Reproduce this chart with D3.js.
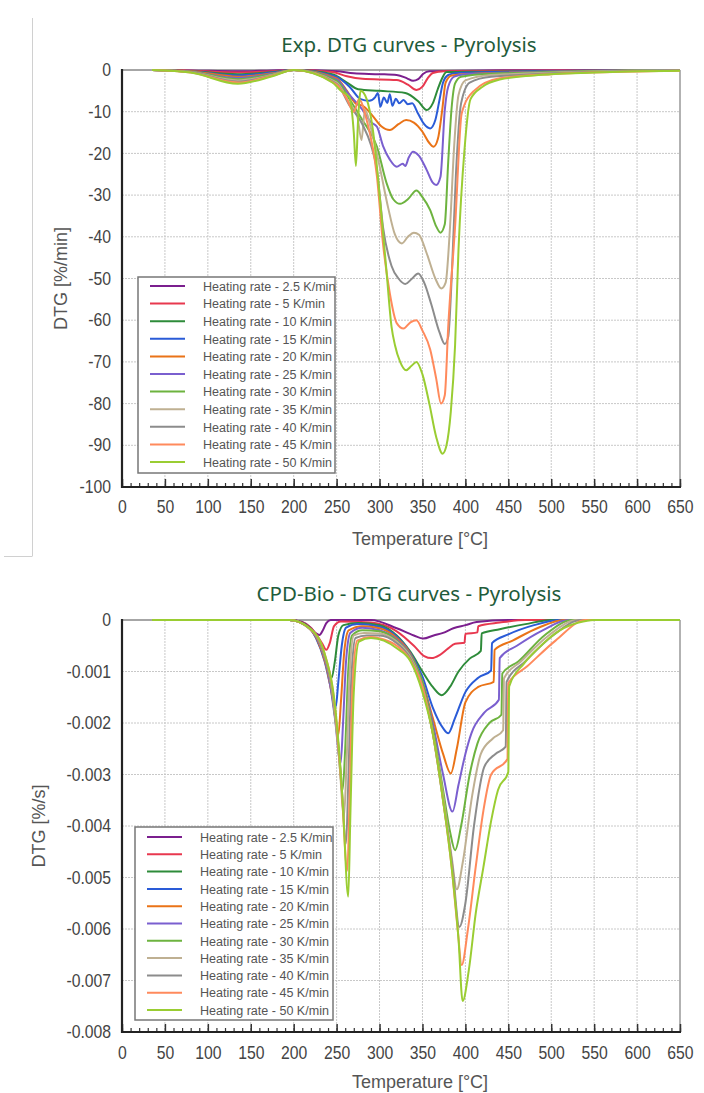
<!DOCTYPE html>
<html><head><meta charset="utf-8">
<script src="https://cdn.jsdelivr.net/npm/d3@7"></script>
<style>body{margin:0;background:#fff}</style>
</head><body><svg id="c" width="704" height="1093"></svg>
<script>
// ---------- shared ----------
const rateLabels = ["Heating rate - 2.5 K/min","Heating rate - 5 K/min","Heating rate - 10 K/min","Heating rate - 15 K/min","Heating rate - 20 K/min","Heating rate - 25 K/min","Heating rate - 30 K/min","Heating rate - 35 K/min","Heating rate - 40 K/min","Heating rate - 45 K/min","Heating rate - 50 K/min"];
const rateColors = ["#7b1f8e","#e8384f","#2e8b3a","#2a5bd7","#ea7317","#7a5fcf","#6db33f","#bfb092","#8c8c8c","#ff8a5c","#9acd32"];
const tempTicks = [0,50,100,150,200,250,300,350,400,450,500,550,600,650];
const tempMinorTicks = d3.range(0,651,10);

// ---------- top chart (experimental, %/min) ----------
const expTicks = [0,-10,-20,-30,-40,-50,-60,-70,-80,-90,-100];
const exp2_5 = [[35,0],[80,-0.1],[135,-0.3],[175,-0.1],[200,0],[250,-0.3],[270,-0.8],[300,-1.0],[320,-1.2],[332,-2.0],[339,-2.6],[345,-2.2],[351,-0.9],[358,-0.3],[400,-0.15],[500,-0.05],[650,0]];
const exp5 = [[35,0],[80,-0.2],[135,-0.6],[175,-0.3],[200,0],[245,-0.5],[262,-1.5],[280,-2.1],[320,-2.4],[333,-3.5],[343,-4.8],[350,-4.0],[356,-2.0],[362,-0.7],[375,-0.3],[450,-0.2],[650,0]];
const exp10 = [[35,0],[80,-0.3],[135,-1.0],[175,-0.5],[200,0],[245,-1.0],[262,-3.0],[275,-4.6],[300,-5.0],[330,-5.5],[345,-7.5],[355,-9.6],[362,-8.0],[368,-4.5],[372,-2.4],[378,-0.5],[420,-0.4],[650,0]];
const exp15 = [[35,0],[80,-0.3],[135,-1.3],[175,-0.6],[200,0],[248,-1.5],[265,-4.0],[278,-7.0],[288,-7.4],[295,-6.5],[298,-5.5],[301,-8.8],[305,-6.6],[309,-7.9],[312,-5.8],[315,-8.6],[319,-6.9],[323,-8.0],[328,-7.2],[333,-8.2],[338,-8.0],[345,-10.5],[352,-13.0],[359,-14.0],[365,-12.0],[370,-7.0],[374,-3.0],[380,-1.2],[390,-0.7],[430,-0.5],[650,0]];
const exp20 = [[35,0],[80,-0.3],[135,-1.6],[175,-0.8],[200,0],[250,-2.0],[262,-5.0],[272,-8.0],[282,-8.8],[292,-11.0],[302,-13.5],[312,-14.4],[322,-13.0],[331,-12.0],[340,-12.6],[350,-14.8],[358,-17.5],[363,-18.4],[368,-16.5],[373,-9.6],[377,-3.0],[384,-1.3],[420,-0.8],[650,0]];
const exp25 = [[35,0],[80,-0.4],[135,-1.9],[175,-0.9],[200,0],[250,-2.3],[265,-6.0],[280,-9.5],[290,-12.5],[297,-13.6],[304,-18.2],[312,-21.5],[320,-23.2],[327,-22.5],[330,-23.0],[334,-21.0],[339,-19.6],[346,-20.6],[355,-24.0],[362,-27.0],[366,-27.6],[371,-25.6],[376,-9.6],[380,-4.0],[387,-1.6],[400,-1.0],[650,0]];
const exp30 = [[35,0],[80,-0.4],[135,-2.2],[175,-1.0],[200,0],[250,-2.6],[265,-7.0],[280,-12.0],[297,-18.4],[308,-27.0],[316,-31.0],[324,-32.1],[333,-31.0],[343,-28.9],[350,-30.5],[359,-33.6],[366,-37.5],[371,-39.0],[376,-37.0],[380,-22.0],[384,-9.0],[388,-3.2],[395,-1.6],[430,-0.9],[650,0]];
const exp35 = [[35,0],[80,-0.5],[135,-2.5],[175,-1.2],[200,0],[250,-3.0],[265,-8.0],[274,-11.0],[279,-16.8],[283,-9.5],[290,-14.0],[300,-23.0],[310,-33.0],[318,-39.5],[326,-41.6],[333,-40.0],[340,-39.0],[346,-39.5],[355,-44.0],[365,-50.0],[372,-52.4],[377,-51.0],[382,-38.0],[387,-18.0],[392,-6.0],[400,-2.5],[430,-1.2],[650,0]];
const exp40 = [[35,0],[80,-0.5],[135,-2.8],[175,-1.3],[200,0],[250,-3.3],[265,-8.5],[280,-13.0],[290,-18.0],[297,-24.0],[304,-37.6],[314,-47.0],[322,-50.0],[330,-51.3],[338,-50.0],[345,-48.8],[352,-51.0],[360,-56.0],[370,-63.0],[376,-65.7],[380,-64.0],[384,-50.0],[389,-25.0],[395,-8.0],[405,-3.0],[430,-1.6],[650,0]];
const exp45 = [[35,0],[80,-0.6],[135,-3.0],[175,-1.4],[200,0],[250,-3.5],[262,-7.0],[270,-10.0],[276,-7.0],[285,-12.0],[297,-25.6],[304,-41.6],[312,-53.6],[320,-60.7],[328,-62.0],[336,-60.5],[343,-60.0],[350,-62.5],[359,-67.0],[366,-74.0],[371.6,-80.0],[376,-78.0],[380,-61.6],[388,-37.6],[395.7,-10.4],[410,-5.0],[440,-2.0],[500,-1.0],[650,-0.2]];
const exp50 = [[35,0],[80,-0.6],[135,-3.3],[175,-1.5],[200,0],[245,-3.0],[255,-5.0],[265,-6.5],[270,-15.0],[272.5,-23.0],[275,-12.0],[278,-5.0],[285,-7.0],[292,-14.0],[301.7,-33.6],[308,-48.0],[314,-61.6],[318,-66.0],[324,-70.0],[331,-72.0],[337,-71.0],[343,-70.0],[350,-73.0],[358,-80.0],[366,-88.0],[373.5,-92.0],[378,-90.0],[383,-82.0],[388,-66.0],[392,-43.0],[399,-19.0],[406,-7.0],[420,-4.0],[440,-2.3],[480,-1.3],[550,-0.6],[650,-0.2]];

// ---------- bottom chart (CPD-Bio, %/s) ----------
const cpdTicks = [0,-0.001,-0.002,-0.003,-0.004,-0.005,-0.006,-0.007,-0.008];
const cpdTickLabels = ["0","-0.001","-0.002","-0.003","-0.004","-0.005","-0.006","-0.007","-0.008"];
const cpd2_5 = [[35,0],[195,0],[210,-0.00004],[220,-0.00015],[226,-0.00026],[230,-0.00029],[234,-0.0002],[238,-0.00006],[243,0],[290,0],[320,-0.00016],[340,-0.0003],[351,-0.00036],[363,-0.0003],[374,-0.00025],[386,-0.00016],[400,-0.0001],[413,-0.00004],[450,0],[650,0]];
const cpd5 = [[35,0],[195,0],[212,-0.00006],[225,-0.00025],[233,-0.00045],[238,-0.00058],[242,-0.00045],[247,-0.00012],[255,-0.00003],[290,-0.00005],[320,-0.00022],[340,-0.0005],[352,-0.0007],[360.7,-0.00074],[370,-0.00068],[380,-0.00055],[388,-0.00046],[399,-0.00044],[400,-0.00027],[414,-0.00024],[415,-0.00012],[440,-0.00005],[470,0],[650,0]];
const cpd10 = [[35,0],[195,0],[213,-0.00008],[225,-0.0003],[235,-0.0007],[241,-0.001],[244,-0.00113],[248,-0.0008],[252,-0.0003],[258,-0.0001],[275,-0.00006],[300,-0.0001],[320,-0.0003],[336,-0.00062],[350,-0.001],[362,-0.0013],[372.4,-0.00146],[382,-0.0013],[392,-0.001],[405,-0.00075],[418,-0.0006],[419,-0.00026],[440,-0.00018],[470,-0.00008],[500,0],[650,0]];
const cpd15 = [[35,0],[195,0],[214,-0.0001],[226,-0.00035],[236,-0.0008],[243,-0.0013],[249,-0.00168],[252,-0.0012],[256,-0.0005],[261,-0.00015],[275,-0.00008],[300,-0.00013],[320,-0.00032],[336,-0.00064],[350,-0.0011],[362,-0.0017],[374,-0.0021],[380,-0.0022],[388,-0.0019],[400,-0.0014],[415,-0.00112],[430,-0.00098],[431,-0.00045],[450,-0.00028],[480,-0.0001],[510,0],[650,0]];
const cpd20 = [[35,0],[195,0],[215,-0.00012],[228,-0.0004],[238,-0.0009],[246,-0.0016],[252,-0.00223],[255,-0.0016],[259,-0.0006],[264,-0.0002],[280,-0.00012],[300,-0.00016],[320,-0.00035],[336,-0.00066],[350,-0.0012],[362,-0.0019],[374,-0.0026],[383,-0.00298],[390,-0.0025],[400,-0.0016],[415,-0.0013],[433,-0.0012],[434,-0.00058],[455,-0.0004],[485,-0.00015],[515,0],[650,0]];
const cpd25 = [[35,0],[195,0],[216,-0.00013],[230,-0.00045],[240,-0.001],[248,-0.0019],[254.7,-0.00278],[257.5,-0.002],[261,-0.0008],[266,-0.00025],[280,-0.00015],[300,-0.0002],[320,-0.00038],[336,-0.00068],[350,-0.0012],[362,-0.002],[374,-0.003],[385,-0.00372],[392,-0.0032],[400,-0.0026],[407,-0.0022],[422,-0.0018],[439,-0.00155],[440,-0.00074],[460,-0.0005],[490,-0.0002],[520,0],[650,0]];
const cpd30 = [[35,0],[195,0],[217,-0.00014],[232,-0.0005],[243,-0.0012],[251,-0.0023],[257,-0.0033],[260,-0.0025],[263.5,-0.001],[268,-0.0003],[280,-0.0002],[300,-0.00022],[320,-0.0004],[336,-0.0007],[350,-0.0012],[362,-0.0021],[374,-0.0033],[382,-0.0041],[388,-0.00447],[395,-0.004],[405,-0.003],[414,-0.0024],[428,-0.002],[442,-0.00184],[443,-0.00104],[462,-0.0008],[492,-0.0003],[525,0],[650,0]];
const cpd35 = [[35,0],[195,0],[217,-0.00015],[233,-0.00055],[245,-0.0014],[253,-0.0027],[258.6,-0.00382],[261.5,-0.0028],[265,-0.0011],[270,-0.0003],[282,-0.00025],[300,-0.00026],[320,-0.00042],[336,-0.00072],[350,-0.0013],[362,-0.0022],[374,-0.0034],[384,-0.0046],[390,-0.00523],[397,-0.0047],[408,-0.0034],[418,-0.0026],[432,-0.0023],[444,-0.00214],[445,-0.00113],[465,-0.0008],[497,-0.0003],[530,0],[650,0]];
const cpd40 = [[35,0],[195,0],[218,-0.00016],[234,-0.0006],[247,-0.0016],[255,-0.003],[261,-0.00434],[263.5,-0.0032],[267,-0.0012],[272,-0.00035],[285,-0.0003],[300,-0.0003],[320,-0.00045],[336,-0.00075],[350,-0.0013],[362,-0.0022],[374,-0.0035],[385,-0.0048],[393,-0.00596],[400,-0.0055],[410,-0.004],[422,-0.00285],[435,-0.0026],[447,-0.00246],[448,-0.0012],[470,-0.0008],[502,-0.0003],[535,0],[650,0]];
const cpd45 = [[35,0],[195,0],[219,-0.00017],[235,-0.0006],[248,-0.0017],[256,-0.0033],[262.5,-0.00487],[265,-0.0035],[268.5,-0.0013],[274,-0.0004],[290,-0.00033],[305,-0.00038],[320,-0.0005],[336,-0.00078],[350,-0.0013],[362,-0.0022],[374,-0.0035],[384,-0.0048],[391,-0.006],[395.7,-0.0067],[403,-0.006],[412,-0.0048],[421,-0.0037],[430,-0.003],[449,-0.0027],[450,-0.00123],[472,-0.0009],[505,-0.0004],[540,0],[650,0]];
const cpd50 = [[35,0],[195,0],[220,-0.00018],[236,-0.00065],[249,-0.0018],[257,-0.0035],[263.6,-0.00537],[266,-0.0038],[270,-0.0014],[276,-0.00042],[290,-0.00035],[305,-0.0004],[320,-0.00055],[336,-0.0008],[350,-0.0014],[362,-0.0022],[374,-0.0035],[384,-0.0048],[392,-0.0062],[396.8,-0.0074],[404,-0.0068],[412,-0.0057],[421,-0.0048],[430,-0.0039],[438,-0.0033],[450,-0.00295],[451,-0.00129],[468,-0.00085],[483,-0.00058],[510,-0.0002],[532,-0.00005],[550,0],[650,0]];

const expSeries = [exp2_5,exp5,exp10,exp15,exp20,exp25,exp30,exp35,exp40,exp45,exp50];
const cpdSeries = [cpd2_5,cpd5,cpd10,cpd15,cpd20,cpd25,cpd30,cpd35,cpd40,cpd45,cpd50];

const svg = d3.select("#c");
const SANS = "'Liberation Sans',Arial,sans-serif";

// squeeze a text element horizontally, anchored at its anchor point
function squeeze(sel, factor){
  sel.each(function(){
    const t = d3.select(this);
    const ax = +t.attr("x")||0, ay = +t.attr("y")||0;
    const prev = t.attr("transform")||"";
    t.attr("transform", `${prev} translate(${ax},${ay}) scale(${factor},1) translate(${-ax},${-ay})`);
  });
}

// decorative frame line at left of top panel
svg.append("line").attr("x1",32.5).attr("x2",32.5).attr("y1",18).attr("y2",556).attr("stroke","#d0d0d0").attr("stroke-width",1);
svg.append("line").attr("x1",4).attr("x2",32.5).attr("y1",556.5).attr("y2",556.5).attr("stroke","#d0d0d0").attr("stroke-width",1);

function drawChart(o){
  const x = d3.scaleLinear().domain([0,650]).range([122,680]);
  const y = d3.scaleLinear().domain([o.yTicks[o.yTicks.length-1],0]).range([o.yBottom,o.yTop]);
  const g = svg.append("g");
  // title
  g.append("text").attr("x",409).attr("y",o.titleY).attr("text-anchor","middle")
    .attr("font-family","'Noto Sans','Open Sans',sans-serif").attr("font-size",20.5)
    .attr("fill","#1f5c3b").text(o.title);
  // grid
  g.append("g").selectAll("line").data(tempTicks.filter(t=>t>0&&t<650)).join("line")
    .attr("x1",d=>x(d)).attr("x2",d=>x(d)).attr("y1",o.yTop).attr("y2",o.yBottom)
    .attr("stroke","#c8c8c8").attr("stroke-width",1).attr("stroke-dasharray","2,1");
  g.append("g").selectAll("line").data(o.yTicks.slice(1,-1)).join("line")
    .attr("x1",x(0)).attr("x2",x(650)).attr("y1",d=>y(d)).attr("y2",d=>y(d))
    .attr("stroke","#c8c8c8").attr("stroke-width",1).attr("stroke-dasharray","2,1");
  // frame
  g.append("line").attr("x1",x(0)).attr("x2",x(650)).attr("y1",y(0)).attr("y2",y(0)).attr("stroke","#888").attr("stroke-width",1.5);
  g.append("line").attr("x1",x(650)).attr("x2",x(650)).attr("y1",y(0)).attr("y2",o.yBottom).attr("stroke","#999").attr("stroke-width",1.5);
  // curves
  const line = d3.line().x(d=>x(d[0])).y(d=>y(d[1])).curve(d3.curveMonotoneX);
  g.append("g").selectAll("path").data(o.series).join("path")
    .attr("d",line).attr("fill","none").attr("stroke",(d,i)=>rateColors[i]).attr("stroke-width",2).attr("stroke-linejoin","round");
  // axes
  const yAxis = d3.axisLeft(y).tickValues(o.yTicks).tickSize(0).tickPadding(11).tickFormat((d,i)=>o.yLabels[i]);
  const ya = g.append("g").attr("transform",`translate(${x(0)},0)`).call(yAxis);
  ya.select(".domain").remove();
  ya.selectAll("text").attr("font-family",SANS).attr("font-size",17.5).attr("fill","#444");
  squeeze(ya.selectAll("text"),0.9);
  const xMinor = d3.axisBottom(x).tickValues(tempMinorTicks).tickSize(-4).tickFormat("");
  const xm = g.append("g").attr("transform",`translate(0,${o.yBottom})`).call(xMinor);
  xm.select(".domain").remove();
  xm.selectAll("line").attr("stroke","#333").attr("stroke-width",1.2);
  const xAxis = d3.axisBottom(x).tickValues(tempTicks).tickSize(-8).tickPadding(o.xPad);
  const xa = g.append("g").attr("transform",`translate(0,${o.yBottom})`).call(xAxis);
  xa.select(".domain").remove();
  xa.selectAll("line").attr("stroke","#333").attr("stroke-width",1.5);
  xa.selectAll("text").attr("font-family",SANS).attr("font-size",17.5).attr("fill","#444");
  squeeze(xa.selectAll("text"),0.9);
  g.append("line").attr("x1",x(0)).attr("x2",x(0)).attr("y1",y(0)-1).attr("y2",o.yBottom+1).attr("stroke","#222").attr("stroke-width",2.2);
  g.append("line").attr("x1",x(0)-1).attr("x2",x(650)+1).attr("y1",o.yBottom).attr("y2",o.yBottom).attr("stroke","#222").attr("stroke-width",2.2);
  // axis titles
  g.append("text").attr("x",420).attr("y",o.xTitleY).attr("text-anchor","middle")
    .attr("font-family",SANS).attr("font-size",o.xTitleSize).attr("fill","#555").text("Temperature [°C]");
  g.append("text").attr("transform",`translate(${o.yTitleX},${(o.yTop+o.yBottom)/2}) rotate(-90)`).attr("text-anchor","middle")
    .attr("font-family",SANS).attr("font-size",18).attr("fill","#555").text(o.yTitle);
  // legend
  const L = o.legend;
  const lg = g.append("g");
  lg.append("rect").attr("x",L.x).attr("y",L.y).attr("width",L.w).attr("height",L.h).attr("fill","#fff").attr("stroke","#777").attr("stroke-width",1.5);
  rateLabels.forEach((lab,i)=>{
    const yy = L.y + L.first + i*L.step;
    lg.append("line").attr("x1",L.x+12).attr("x2",L.x+47).attr("y1",yy).attr("y2",yy).attr("stroke",rateColors[i]).attr("stroke-width",2);
    const t = lg.append("text").attr("x",L.x+L.tx).attr("y",yy+4.8).attr("font-family",SANS).attr("font-size",13.5).attr("fill","#555").text(lab);
    squeeze(t,0.93);
  });
}

drawChart({title:"Exp. DTG curves - Pyrolysis", titleY:52, yTop:70, yBottom:487, yTicks:expTicks, yLabels:expTicks.map(String),
  series:expSeries, xPad:14, xTitleY:545, xTitleSize:18, yTitle:"DTG [%/min]", yTitleX:67,
  legend:{x:138,y:277,w:197,h:196,first:9,step:17.6,tx:65}});
drawChart({title:"CPD-Bio - DTG curves - Pyrolysis", titleY:601, yTop:620, yBottom:1032, yTicks:cpdTicks, yLabels:cpdTickLabels,
  series:cpdSeries, xPad:15, xTitleY:1088, xTitleSize:18, yTitle:"DTG [%/s]", yTitleX:45,
  legend:{x:135,y:827,w:198,h:193,first:10,step:17.3,tx:65}});
</script></body></html>
